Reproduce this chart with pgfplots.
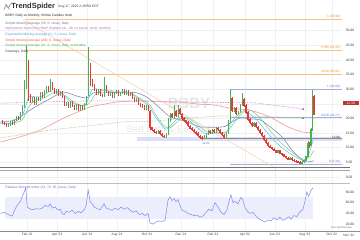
\documentclass[border=0pt]{standalone}
\usepackage{pgfplots}
\pgfplotsset{compat=1.18}
\usepackage{pgfplotstable}
\usepackage{fontspec}
\setmainfont{Liberation Sans}
\newcommand\fs[1]{\fontsize{#1}{#1}\selectfont}
\newcommand\q{\textquotesingle}
\definecolor{upc}{HTML}{4CAF50}
\definecolor{dnc}{HTML}{E53935}
\definecolor{sma50}{HTML}{8290B4}
\definecolor{sma200}{HTML}{EF9A9A}
\definecolor{ema}{HTML}{4FC3F7}
\definecolor{grn}{HTML}{81C784}
\definecolor{vwap}{HTML}{BA68C8}
\definecolor{fibo}{HTML}{F8C08A}
\definecolor{fibot}{HTML}{F08A2C}
\definecolor{fibb}{HTML}{A5ADDD}
\definecolor{fibbt}{HTML}{6F7BC4}
\definecolor{rsic}{HTML}{8484F0}
\definecolor{band}{HTML}{ECEEFB}
\definecolor{zone}{HTML}{DCDFF7}
\definecolor{trend}{HTML}{F9CDA5}

\pgfplotstableread{
x o h l c
2 19.0 19.4 18.1 18.5
4 18.5 18.9 17.6 18.0
6 18.0 18.4 17.2 17.6
8 17.6 18.3 17.2 17.9
10 17.9 19.0 17.5 18.6
12 18.6 19.0 17.8 18.2
14 18.2 19.8 17.8 19.4
16 19.4 20.7 19.0 20.3
18 20.3 20.7 19.4 19.8
20 19.8 22.2 19.4 21.8
22 21.8 24.4 21.4 24.0
24 24.0 33.0 23.6 31.0
26 31.0 45.0 30.0 40.0
28 38.0 40.0 26.0 28.0
30 28.0 28.4 25.1 25.5
32 25.5 27.2 25.1 26.8
34 26.8 27.2 24.6 25.0
36 25.0 27.4 24.6 27.0
38 27.0 27.4 25.9 26.3
40 26.3 28.9 25.9 28.5
42 28.5 28.9 27.1 27.5
44 27.5 29.6 27.1 29.2
46 29.2 30.9 28.8 30.5
48 30.5 30.9 29.0 29.4
50 29.4 33.5 29.0 32.0
52 32.0 32.4 29.6 30.0
54 30.0 30.4 28.2 28.6
56 28.6 30.0 28.2 29.6
58 29.6 30.0 27.6 28.0
60 28.0 29.2 27.6 28.8
62 28.8 29.2 27.0 27.4
64 27.4 27.8 24.2 24.6
66 24.6 25.6 24.2 25.2
68 25.2 25.6 23.6 24.0
70 24.0 26.0 23.6 25.6
72 25.6 26.0 23.8 24.2
74 24.2 24.6 23.0 23.4
76 23.4 25.0 23.0 24.6
78 24.6 25.0 22.6 23.0
80 23.0 24.5 22.6 24.1
82 24.1 24.5 23.0 23.4
84 23.4 25.4 23.0 25.0
86 25.0 27.6 24.6 27.2
88 28.0 44.4 27.5 36.0
90 36.0 39.0 31.0 33.0
92 33.0 33.4 30.8 31.2
94 31.2 31.6 29.4 29.8
96 29.8 30.2 28.0 28.4
98 28.4 30.0 28.0 29.6
100 29.6 30.0 27.6 28.0
102 28.0 28.4 27.2 27.6
104 27.6 34.0 27.2 31.0
106 31.0 31.4 28.6 29.0
108 29.0 29.4 27.6 28.0
110 28.0 29.0 27.6 28.6
112 28.6 29.0 27.0 27.4
114 27.4 29.0 27.0 28.6
116 28.6 29.6 28.2 29.2
118 29.2 29.6 27.6 28.0
120 28.0 29.0 27.6 28.6
122 28.6 30.0 28.2 29.6
124 29.6 30.0 28.0 28.4
126 28.4 29.6 28.0 29.2
128 29.2 29.6 27.6 28.0
130 28.0 29.0 27.6 28.6
132 28.6 29.0 26.6 27.0
134 27.0 27.4 25.6 26.0
136 26.0 27.0 25.6 26.6
138 26.6 27.0 24.6 25.0
140 25.0 25.4 24.0 24.4
142 24.4 24.8 23.6 24.0
144 24.0 24.4 23.0 23.4
146 23.4 24.4 23.0 24.0
148 24.0 24.4 22.6 23.0
150 22.6 23.0 16.0 16.8
152 16.8 17.2 15.6 16.0
154 16.0 16.4 15.0 15.4
156 15.4 15.8 14.6 15.0
158 15.0 16.0 14.6 15.6
160 15.6 16.0 14.2 14.6
162 14.6 15.0 13.6 14.0
164 14.0 14.4 13.3 13.8
166 13.8 15.0 13.4 14.6
168 14.6 20.0 14.2 19.0
170 19.0 21.8 18.6 21.4
172 21.4 21.8 20.0 20.4
174 20.4 24.4 20.0 22.6
176 22.6 23.0 20.6 21.0
178 21.0 24.6 20.6 23.0
180 23.0 23.4 21.0 21.4
182 21.4 21.8 19.6 20.0
184 20.0 20.4 18.8 19.2
186 19.2 19.6 18.2 18.6
188 18.6 19.0 17.0 17.4
190 17.4 17.8 16.2 16.6
192 16.6 17.0 15.6 16.0
194 16.0 16.4 15.0 15.4
196 15.4 15.8 14.4 14.8
198 14.8 15.2 13.6 14.0
200 14.0 14.4 13.0 13.4
202 13.4 13.8 12.61 13.2
204 13.2 14.2 12.8 13.8
206 13.8 15.0 13.4 14.6
208 14.6 16.0 14.2 15.6
210 15.6 16.0 14.6 15.0
212 15.0 16.4 14.6 16.0
214 16.0 16.4 15.0 15.4
216 15.4 17.0 15.0 16.6
218 16.6 17.0 15.6 16.0
220 16.0 16.4 14.6 15.0
222 15.0 15.4 14.0 14.4
224 14.4 14.8 12.8 13.4
226 13.4 15.4 13.0 15.0
228 15.0 19.4 14.6 19.0
230 19.0 30.0 18.5 27.0
232 27.0 27.4 22.2 22.6
234 22.6 24.0 22.2 23.6
236 23.6 24.0 21.0 21.4
238 21.4 22.6 21.0 22.2
240 22.2 25.0 21.8 24.6
242 24.6 28.6 24.2 26.6
244 26.6 27.0 24.0 24.4
246 24.4 24.8 21.6 22.0
248 22.0 22.4 19.2 19.6
250 19.6 20.0 18.0 18.4
252 18.4 18.8 17.2 17.6
254 17.6 18.6 17.2 18.2
256 18.2 18.6 16.6 17.0
258 17.0 17.4 15.6 16.0
260 16.0 16.4 14.6 15.0
262 15.0 15.4 13.6 14.0
264 14.0 14.4 12.2 12.6
266 12.6 13.0 11.3 11.6
268 11.6 12.0 10.3 10.6
270 10.6 11.0 9.7 10.0
272 10.0 10.3 9.3 9.6
274 9.6 9.9 8.7 9.0
276 9.0 9.3 8.1 8.4
278 8.4 9.3 8.1 9.0
280 9.0 9.3 7.7 8.0
282 8.0 8.3 7.3 7.6
284 7.6 7.9 6.7 7.0
286 7.0 7.3 6.2 6.5
288 6.5 6.8 5.7 6.0
290 6.0 6.7 5.7 6.4
292 6.4 6.7 5.5 5.8
294 5.8 6.1 5.2 5.5
296 5.5 5.8 4.9 5.2
298 5.2 5.5 4.7 5.0
300 5.0 5.3 4.44 4.8
302 4.8 5.3 4.5 5.0
304 5.0 5.9 4.7 5.6
306 5.6 7.3 5.3 7.0
308 7.0 12.4 6.8 11.4
309.5 11.4 11.8 10.0 10.6
311 10.6 16.6 10.4 16.2
312.5 16.2 29.7 15.8 27.5
314 27.5 28.0 21.0 21.39
}\candles

\pgfplotstableread{
x y
0 18.8
15 19.5
33 23.5
53 27.3
63 29.0
77 27.6
87 27.0
93 28.7
107 28.7
123 29.0
137 28.7
148 27.0
160 23.5
170 20.5
180 19.5
190 18.4
200 17.1
223 17.1
230 18.4
240 20.1
250 19.8
260 19.5
268 17.7
282 13.7
292 9.2
302 5.8
307 5.1
314 5.5
}\smaA

\pgfplotstableread{
x y
0 11.9
20 13.7
40 16.0
60 19.5
75 21.8
90 23.9
105 24.9
117 25.6
133 25.9
150 25.9
165 25.6
180 25.6
197 24.9
213 24.6
230 23.5
247 22.9
260 21.8
272 20.1
288 17.1
302 15.4
314 15.0
}\smaB

\pgfplotstableread{
x y
0 18.3
10 18.2
18 19.5
24 22.5
28 27.0
32 27.5
40 27.3
50 29.2
60 29.0
66 27.0
74 25.0
84 24.3
88 26.5
92 29.8
98 30.0
106 29.5
116 28.8
126 28.7
136 27.3
146 25.0
150 23.6
154 21.2
160 18.4
166 16.3
172 18.0
180 20.5
188 19.5
196 17.3
204 15.0
212 14.8
220 15.2
226 15.0
230 17.8
236 20.5
244 22.7
250 21.5
258 19.0
266 15.7
274 12.5
282 10.0
290 8.0
298 6.4
304 5.7
308 6.8
311 9.8
314 13.5
}\emaT

\pgfplotstableread{
x y
0 18.5
12 18.3
22 19.5
28 23.5
34 26.0
44 27.0
54 28.8
64 28.0
74 25.5
84 24.3
90 25.5
96 28.5
106 29.8
118 29.0
130 28.6
142 26.5
150 24.5
156 21.0
164 17.5
170 16.8
178 19.0
186 20.3
196 18.3
206 15.5
216 15.0
226 15.3
232 17.5
240 21.0
248 23.0
256 21.5
264 18.5
272 15.0
280 12.0
290 9.0
298 7.0
304 6.0
309 6.5
314 9.0
}\grnT

\pgfplotstableread{
x y
0 40
4 42
8 38
12 35
14 45
16 52
18 58
20 62
22 72
24 80
25.5 88
27 52
30 48
33 47
36 49
39 48
42 50
45 55
48 53
50 58
52 50
55 52
58 46
60 48
62 40
64 38
66 44
69 42
72 46
75 40
78 44
81 41
84 47
86 55
88 84
90 62
92 58
94 52
97 49
100 47
103 55
104 58
106 50
109 48
112 46
115 50
118 47
121 52
124 48
127 51
130 46
133 42
136 45
139 38
142 40
145 36
148 40
150 22
153 20
156 24
159 26
162 25
165 27
168 65
170 71
172 64
174 68
176 62
178 66
180 55
182 46
185 44
188 40
191 38
194 36
197 37
200 33
203 35
206 42
209 48
212 45
215 60
218 52
221 42
224 38
227 46
229 62
231 75
233 60
235 63
238 58
241 70
243 65
245 52
247 45
250 40
253 42
256 35
259 30
262 27
265 24
268 28
271 26
274 32
277 28
280 33
283 27
286 30
289 34
291 29
294 36
297 34
299 40
301 45
303 47
305 62
307 80
309 72
311 82
313 88
}\rsi

\pgfplotsset{
  wick/.style={draw=none, mark=none, forget plot,
    error bars/y dir=both, error bars/y explicit, error bars/error mark=none,
    error bars/error bar style={draw=#1, line width=0.4bp}},
  body/.style 2 args={draw=none, mark=none, forget plot,
    error bars/y dir=both, error bars/y explicit, error bars/error mark=none,
    error bars/error bar style={draw=#1, line width=#2}},
}

\begin{document}
\begin{tikzpicture}
\begin{scope}[x=1bp,y=-1bp]
\path[use as bounding box, fill=white] (0,0) rectangle (360,240);
% watermark
\node[text=black!10, font=\fs{15}\bfseries] at (189,103) {BBBY};
\node[text=black!9, font=\fs{9.5}] at (168,130) {Bed Bath \& Beyond};
\end{scope}

\begin{axis}[at={(0bp,0bp)}, anchor=north west, width=342bp, height=183bp, scale only axis,
  xmin=0, xmax=342, ymin=-2.05, ymax=60.4,
  axis line style={draw=none}, tick style={draw=none},
  ytick={0,5,...,50}, yticklabel pos=right,
  /pgf/number format/assume math mode=true,
  yticklabel={\pgfmathprintnumber[fixed,fixed zerofill,precision=2]{\tick}},
  yticklabel style={font=\fs{3.4}, text=black!75, anchor=west, xshift=0.5bp},
  xtick={27,57,87,117,147,181,213,245,275,305,332}, xticklabels={},
  xmajorgrids, ymajorgrids, major grid style={black!6, line width=0.3bp},
  clip mode=individual]
% zone 12.98
\addplot[fill=zone, draw=none, forget plot] coordinates {(137,12.1) (342,12.1) (342,13.6) (137,13.6)} -- cycle;
\addplot[black!45, line width=0.9bp, forget plot] coordinates {(200,12.98) (342,12.98)};
% fib orange
\addplot[fibo, line width=0.6bp] coordinates {(25,53.9) (342,53.9)};
\addplot[fibo, line width=0.6bp] coordinates {(25,43.32) (342,43.32)};
\addplot[fibo, line width=0.6bp] coordinates {(25,35.01) (342,35.01)};
% fib blue
\addplot[fibb, line width=0.6bp] coordinates {(230,30.0) (342,30.0)};
\addplot[fibb, line width=0.6bp] coordinates {(230,20.27) (342,20.27)};
\addplot[fibb, line width=0.6bp] coordinates {(230,4.44) (342,4.44)};
% trend line
\addplot[trend, line width=0.5bp] coordinates {(23,53.6) (276,2.8)};
% moving averages
\addplot[grn, densely dotted, line width=0.6bp] coordinates {(0,13.3) (50,16.0) (95,17.7) (123,18.8) (157,19.1) (185,20.1) (220,20.8) (255,20.8) (303,20.1)};
\addplot[vwap, densely dotted, line width=0.6bp] coordinates {(0,25.2) (90,26.0) (140,26.0) (180,25.6) (255,25.3) (303,23.2)};
\addplot[vwap, only marks, mark=+, mark size=1.3bp, line width=0.5bp] coordinates {(303,23.2)};
\addplot[grn!80!black, only marks, mark=+, mark size=1.3bp, line width=0.5bp] coordinates {(303,20.1)};
\addplot[sma200, line width=0.6bp, smooth] table {\smaB};
\addplot[sma50, line width=0.6bp, smooth] table {\smaA};
\addplot[grn, line width=0.5bp, smooth] table {\grnT};
\addplot[ema, line width=0.5bp, smooth] table {\emaT};
% candles
\addplot[wick=dnc] table[x=x, y expr={(\thisrow{h}+\thisrow{l})/2}, y error expr={(\thisrow{h}-\thisrow{l})/2}, restrict expr to domain={\thisrow{c}-\thisrow{o}}{-1000:-0.001}] {\candles};
\addplot[body={dnc}{1.15bp}] table[x=x, y expr={(\thisrow{o}+\thisrow{c})/2}, y error expr={abs(\thisrow{c}-\thisrow{o})/2+0.08}, restrict expr to domain={\thisrow{c}-\thisrow{o}}{-1000:-0.001}] {\candles};
\addplot[wick=upc] table[x=x, y expr={(\thisrow{h}+\thisrow{l})/2}, y error expr={(\thisrow{h}-\thisrow{l})/2}, restrict expr to domain={\thisrow{c}-\thisrow{o}}{0:1000}] {\candles};
\addplot[body={upc}{0.85bp}] table[x=x, y expr={(\thisrow{o}+\thisrow{c})/2}, y error expr={abs(\thisrow{c}-\thisrow{o})/2+0.08}, restrict expr to domain={\thisrow{c}-\thisrow{o}}{0:1000}] {\candles};
% labels
\node[anchor=south east, inner sep=0.6bp, text=fibot, font=\fs{3.2}] at (axis cs:341,53.9) {1 (53.90)};
\node[anchor=south east, inner sep=0.6bp, text=fibot, font=\fs{3.2}] at (axis cs:341,43.32) {0.786 (43.32)};
\node[anchor=south east, inner sep=0.6bp, text=fibot, font=\fs{3.2}] at (axis cs:341,35.01) {0.618 (35.01)};
\node[anchor=south east, inner sep=0.6bp, text=fibbt, font=\fs{3.2}] at (axis cs:341,30.0) {1 (30.00)};
\node[anchor=south east, inner sep=0.6bp, text=fibbt, font=\fs{3.2}] at (axis cs:341,20.27) {0.618 (20.27)};
\node[anchor=south east, inner sep=0.6bp, text=fibbt, font=\fs{3.2}] at (axis cs:341,4.44) {0 (4.44)};
\node[anchor=south east, inner sep=0.6bp, text=black!80, font=\fs{3.2}] at (axis cs:341,12.98) {12.98};
\node[text=black!55, font=\fs{3}] at (axis cs:206,11.4) {12.61};
\end{axis}

\begin{axis}[at={(0bp,-183bp)}, anchor=north west, width=342bp, height=48bp, scale only axis,
  xmin=0, xmax=342, ymin=7.5, ymax=97.2,
  axis line style={draw=none},
  ytick={20,40,60,80}, yticklabel pos=right, ytick style={draw=none},
  /pgf/number format/assume math mode=true,
  yticklabel={\pgfmathprintnumber[fixed,fixed zerofill,precision=2]{\tick}},
  yticklabel style={font=\fs{3.4}, text=black!75, anchor=west, xshift=0.5bp},
  xtick={27,57,87,117,147,181,213,245,275,305,332},
  xticklabels={Feb \q{}21, Apr \q{}21, Jun \q{}21, Aug \q{}21, Oct \q{}21, Dec \q{}21, Feb \q{}22, Apr \q{}22, Jun \q{}22, Aug \q{}22, Oct \q{}22},
  xtick pos=bottom, xtick align=outside, xtick style={draw=black!50, line width=0.3bp},
  major tick length=1.5bp,
  xticklabel style={font=\fs{3.3}, text=black!75, inner sep=0.8bp},
  xmajorgrids, major grid style={black!6, line width=0.3bp},
  clip mode=individual]
\addplot[fill=band, draw=none] coordinates {(5,30) (313,30) (313,70) (5,70)} -- cycle;
\addplot[rsic, line width=0.5bp] table {\rsi};
\end{axis}

\begin{scope}[x=1bp,y=-1bp]
% panel separators
\draw[black!55, line width=0.6bp] (0,167.5) -- (350,167.5);
\draw[black!35, line width=0.5bp] (0,170) -- (350,170);
\draw[black!25, line width=0.5bp] (0,183) -- (350,183);
\draw[black!45, line width=0.5bp] (0,231) -- (360,231);
\node[text=black!75, font=\fs{3.3}, inner sep=0] at (349,235.3) {Nov \q{}22};
\node[text=black!60, font=\fs{2.6}, inner sep=0, anchor=east] at (352,227.8) {Your text this area};
% price box
\node[fill=dnc!85!black, text=white, font=\fs{3.3}, inner sep=1bp, minimum width=16bp] at (351,103) {21.39};
% header
\draw[black!50, line width=0.55bp] (3.5,9.5) -- (6,4.5) -- (8,8) -- (10.5,3.5);
\draw[black!35, line width=0.45bp] (4.5,4) -- (9.5,9.5);
\node[anchor=west, inner sep=0, text=black!82, font=\fs{7.5}\bfseries] at (11,6.6) {TrendSpider};
\node[anchor=west, inner sep=0, text=black!75, font=\fs{3.4}] at (58,6.6) {Aug 17, 2022 2:28PM EDT};
\node[anchor=west, inner sep=0, text=black!85, font=\fs{3.3}] at (5,15.3) {BBBY, Daily vs Monthly, Hollow Candles chart};
\node[anchor=west, inner sep=0, text=sma50!80!black, font=\fs{3.3}] at (5,23.2) {Simple Moving Average (50, 0, close), Daily};
\node[anchor=west, inner sep=0, text=vwap, font=\fs{3.3}] at (5,28.9) {Alphatrends Anchored VWAP (highest val, -40, no bands, stick), Monthly};
\node[anchor=west, inner sep=0, text=ema!85!black, font=\fs{3.3}] at (5,34.6) {Exponential Moving Average (21, 0, close), Daily};
\node[anchor=west, inner sep=0, text=dnc!85, font=\fs{3.3}] at (5,40.3) {Simple Moving Average (200, 0, close), Daily};
\node[anchor=west, inner sep=0, text=upc, font=\fs{3.3}] at (5,46.0) {Simple Moving Average (21, 0, close), Daily vs Monthly};
\node[anchor=west, inner sep=0, text=black!75, font=\fs{3.3}] at (5,51.7) {Drawings, Daily};
\node[anchor=west, inner sep=0, text=rsic!85!black, font=\fs{3.3}] at (5,187.3) {Relative Strength Index (14, 70, 30, close), Daily};
\end{scope}
\end{tikzpicture}
\end{document}
